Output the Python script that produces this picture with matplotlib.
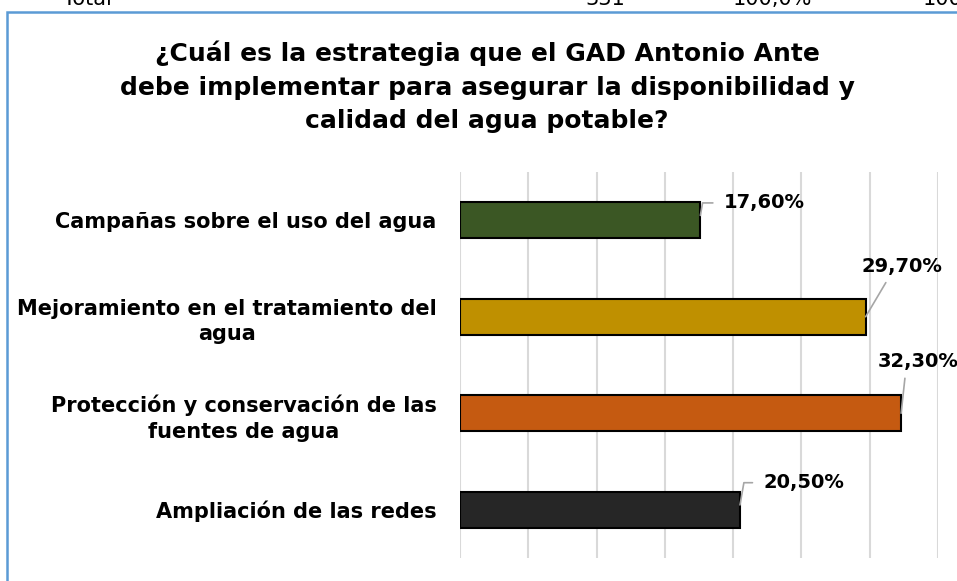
import matplotlib
matplotlib.use("Agg")
import matplotlib.pyplot as plt
from matplotlib.patches import Rectangle

# datos de la encuesta
categorias = ["Campañas sobre el uso del agua",
              "Mejoramiento en el tratamiento del\nagua",
              "Protección y conservación de las\nfuentes de agua",
              "Ampliación de las redes"]
porcentajes = [17.6, 29.7, 32.3, 20.5]
etiquetas = ["17,60%", "29,70%", "32,30%", "20,50%"]
colores = ["#3B5724", "#BF9000", "#C55A11", "#262626"]

# fila de la tabla anterior (cortada arriba)
fila_tabla = ["Total", "331", "100,0%", "100"]
fila_x = [63, 585, 733, 923]

titulo = ("¿Cuál es la estrategia que el GAD Antonio Ante\n"
          "debe implementar para asegurar la disponibilidad y\n"
          "calidad del agua potable?")

plt.rcParams["font.family"] = "DejaVu Sans"

fig = plt.figure(figsize=(9.57, 5.81), dpi=100)
ax = fig.add_axes([460 / 957, 23 / 581, 478 / 957, 386 / 581])

y = list(range(len(categorias)))
ax.barh(y, porcentajes, height=0.37, color=colores, edgecolor="black", linewidth=1.5, zorder=3)

ax.set_xlim(0, 35)
ax.set_ylim(3.5, -0.5)
ax.set_xticks(range(0, 36, 5))
ax.set_xticklabels([])
ax.tick_params(axis="x", length=0)
ax.grid(axis="x", color="#D9D9D9", linewidth=1.5, zorder=0)
ax.set_yticks(y)
ax.set_yticklabels(categorias, fontsize=15, fontweight="bold",
                   multialignment="center", linespacing=1.35)
ax.tick_params(axis="y", length=0, pad=17)
for s in ax.spines.values():
    s.set_visible(False)

# etiquetas de datos con lineas guia
desfases = [(17, 9), (26, 36), (12, 37), (17, 16)]
for i, (v, txt) in enumerate(zip(porcentajes, etiquetas)):
    dx, dy = desfases[i]
    if i in (0, 3):
        ax.annotate(txt, xy=(v, i - 0.05), xytext=(dx, dy), textcoords="offset points",
                    ha="left", va="center", fontsize=14, fontweight="bold",
                    arrowprops=dict(arrowstyle="-", color="#A6A6A6", lw=1.2,
                                    relpos=(0, 0.5), shrinkA=6, shrinkB=0,
                                    connectionstyle="angle,angleA=0,angleB=80,rad=0"),
                    annotation_clip=False)
    else:
        ax.annotate(txt, xy=(v, i), xytext=(dx, dy), textcoords="offset points",
                    ha="center", va="center", fontsize=14, fontweight="bold",
                    arrowprops=dict(arrowstyle="-", color="#A6A6A6", lw=1.2,
                                    relpos=(0.35, 0), shrinkA=3, shrinkB=0),
                    annotation_clip=False)

fig.text(487 / 957, 1 - 87 / 581, titulo, ha="center", va="center",
         fontsize=18, fontweight="bold", linespacing=1.5)

# borde del grafico
fig.patches.append(Rectangle((7 / 957, -0.2), 1.2, 1.2 - 12 / 581, transform=fig.transFigure,
                             fill=False, edgecolor="#5B9BD5", linewidth=1.8))

for t, x in zip(fila_tabla, fila_x):
    fig.text(x / 957, 1 - 5 / 581, t, ha="left", va="baseline", fontsize=15)

fig.savefig("out.png", dpi=100)
